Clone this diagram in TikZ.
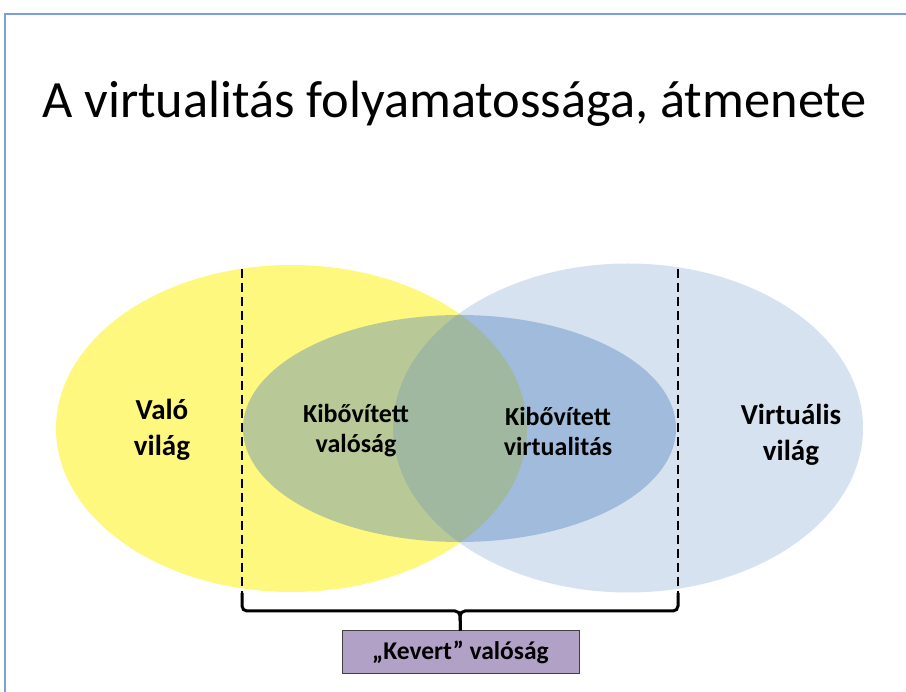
\documentclass[tikz,border=0pt]{standalone}
\usepackage{fontspec}
\setmainfont{Carlito}
\usetikzlibrary{shapes.geometric,positioning}
\definecolor{officeblue}{HTML}{4F81BD}
\definecolor{mixpurple}{HTML}{B2A1C7}
\definecolor{framecolor}{HTML}{7BA0D6}
\tikzset{
  world/.style={ellipse, inner sep=0pt, minimum width=#1},
  worldtext/.style={font=\bfseries\fontsize{29}{36}\selectfont, align=center},
  arvrtext/.style={font=\bfseries\fontsize{26}{30}\selectfont, align=center},
  border/.style={dash pattern=on 9pt off 5pt, line width=2.8pt},
  brace/.style={line width=3pt, rounded corners=5pt},
  mixbox/.style={draw=black!75, fill=mixpurple, line width=1pt, minimum width=237pt,
    minimum height=42pt, font=\bfseries\fontsize{25.5}{28}\selectfont}
}
\begin{document}
\begin{tikzpicture}[x=1pt, y=-1pt]
	\useasboundingbox (0,0) rectangle (906,692);
	\draw[framecolor, line width=2pt] (5,14) rectangle (930,720);
	\node[anchor=base] (title) at (454.5,118) {\fontsize{52.4}{58}\selectfont A virtualitás folyamatossága, átmenete};
	% the three worlds
	\node[world=471pt, minimum height=327pt, fill=yellow, fill opacity=0.5] (real) at (291.5,428.5) {};
	\node[world=470pt, minimum height=329pt, fill=officeblue, fill opacity=0.23] (virtual) at (628,428) {};
	\node[world=433pt, minimum height=227pt, fill=officeblue, fill opacity=0.4] (mixworld) at (459.5,428.5) {};
	\node[worldtext] (realtext) at (162,430) {Való\\világ};
	\node[worldtext] (virtualtext) at (791,435) {Virtuális\\világ};
	\node[arvrtext] (artext) at (356,431) {Kibővített\\valóság};
	\node[arvrtext] (avtext) at (558,431) {Kibővített\\virtualitás};
	% mixed reality range
	\coordinate (ltop) at (242,269);
	\coordinate (lbot) at (242,593);
	\coordinate (rtop) at (678,269);
	\coordinate (rbot) at (678,593);
	\coordinate (tip) at (460,611);
	\draw[border] (ltop) -- (lbot);
	\draw[border] (rtop) -- (rbot);
	\node[mixbox] (mixed) at (460.5,652) {„Kevert” valóság};
	\draw[brace] (lbot) |- (tip) -- (mixed.north);
	\draw[brace] (rbot) |- (tip) -- (mixed.north);
\end{tikzpicture}
\end{document}
